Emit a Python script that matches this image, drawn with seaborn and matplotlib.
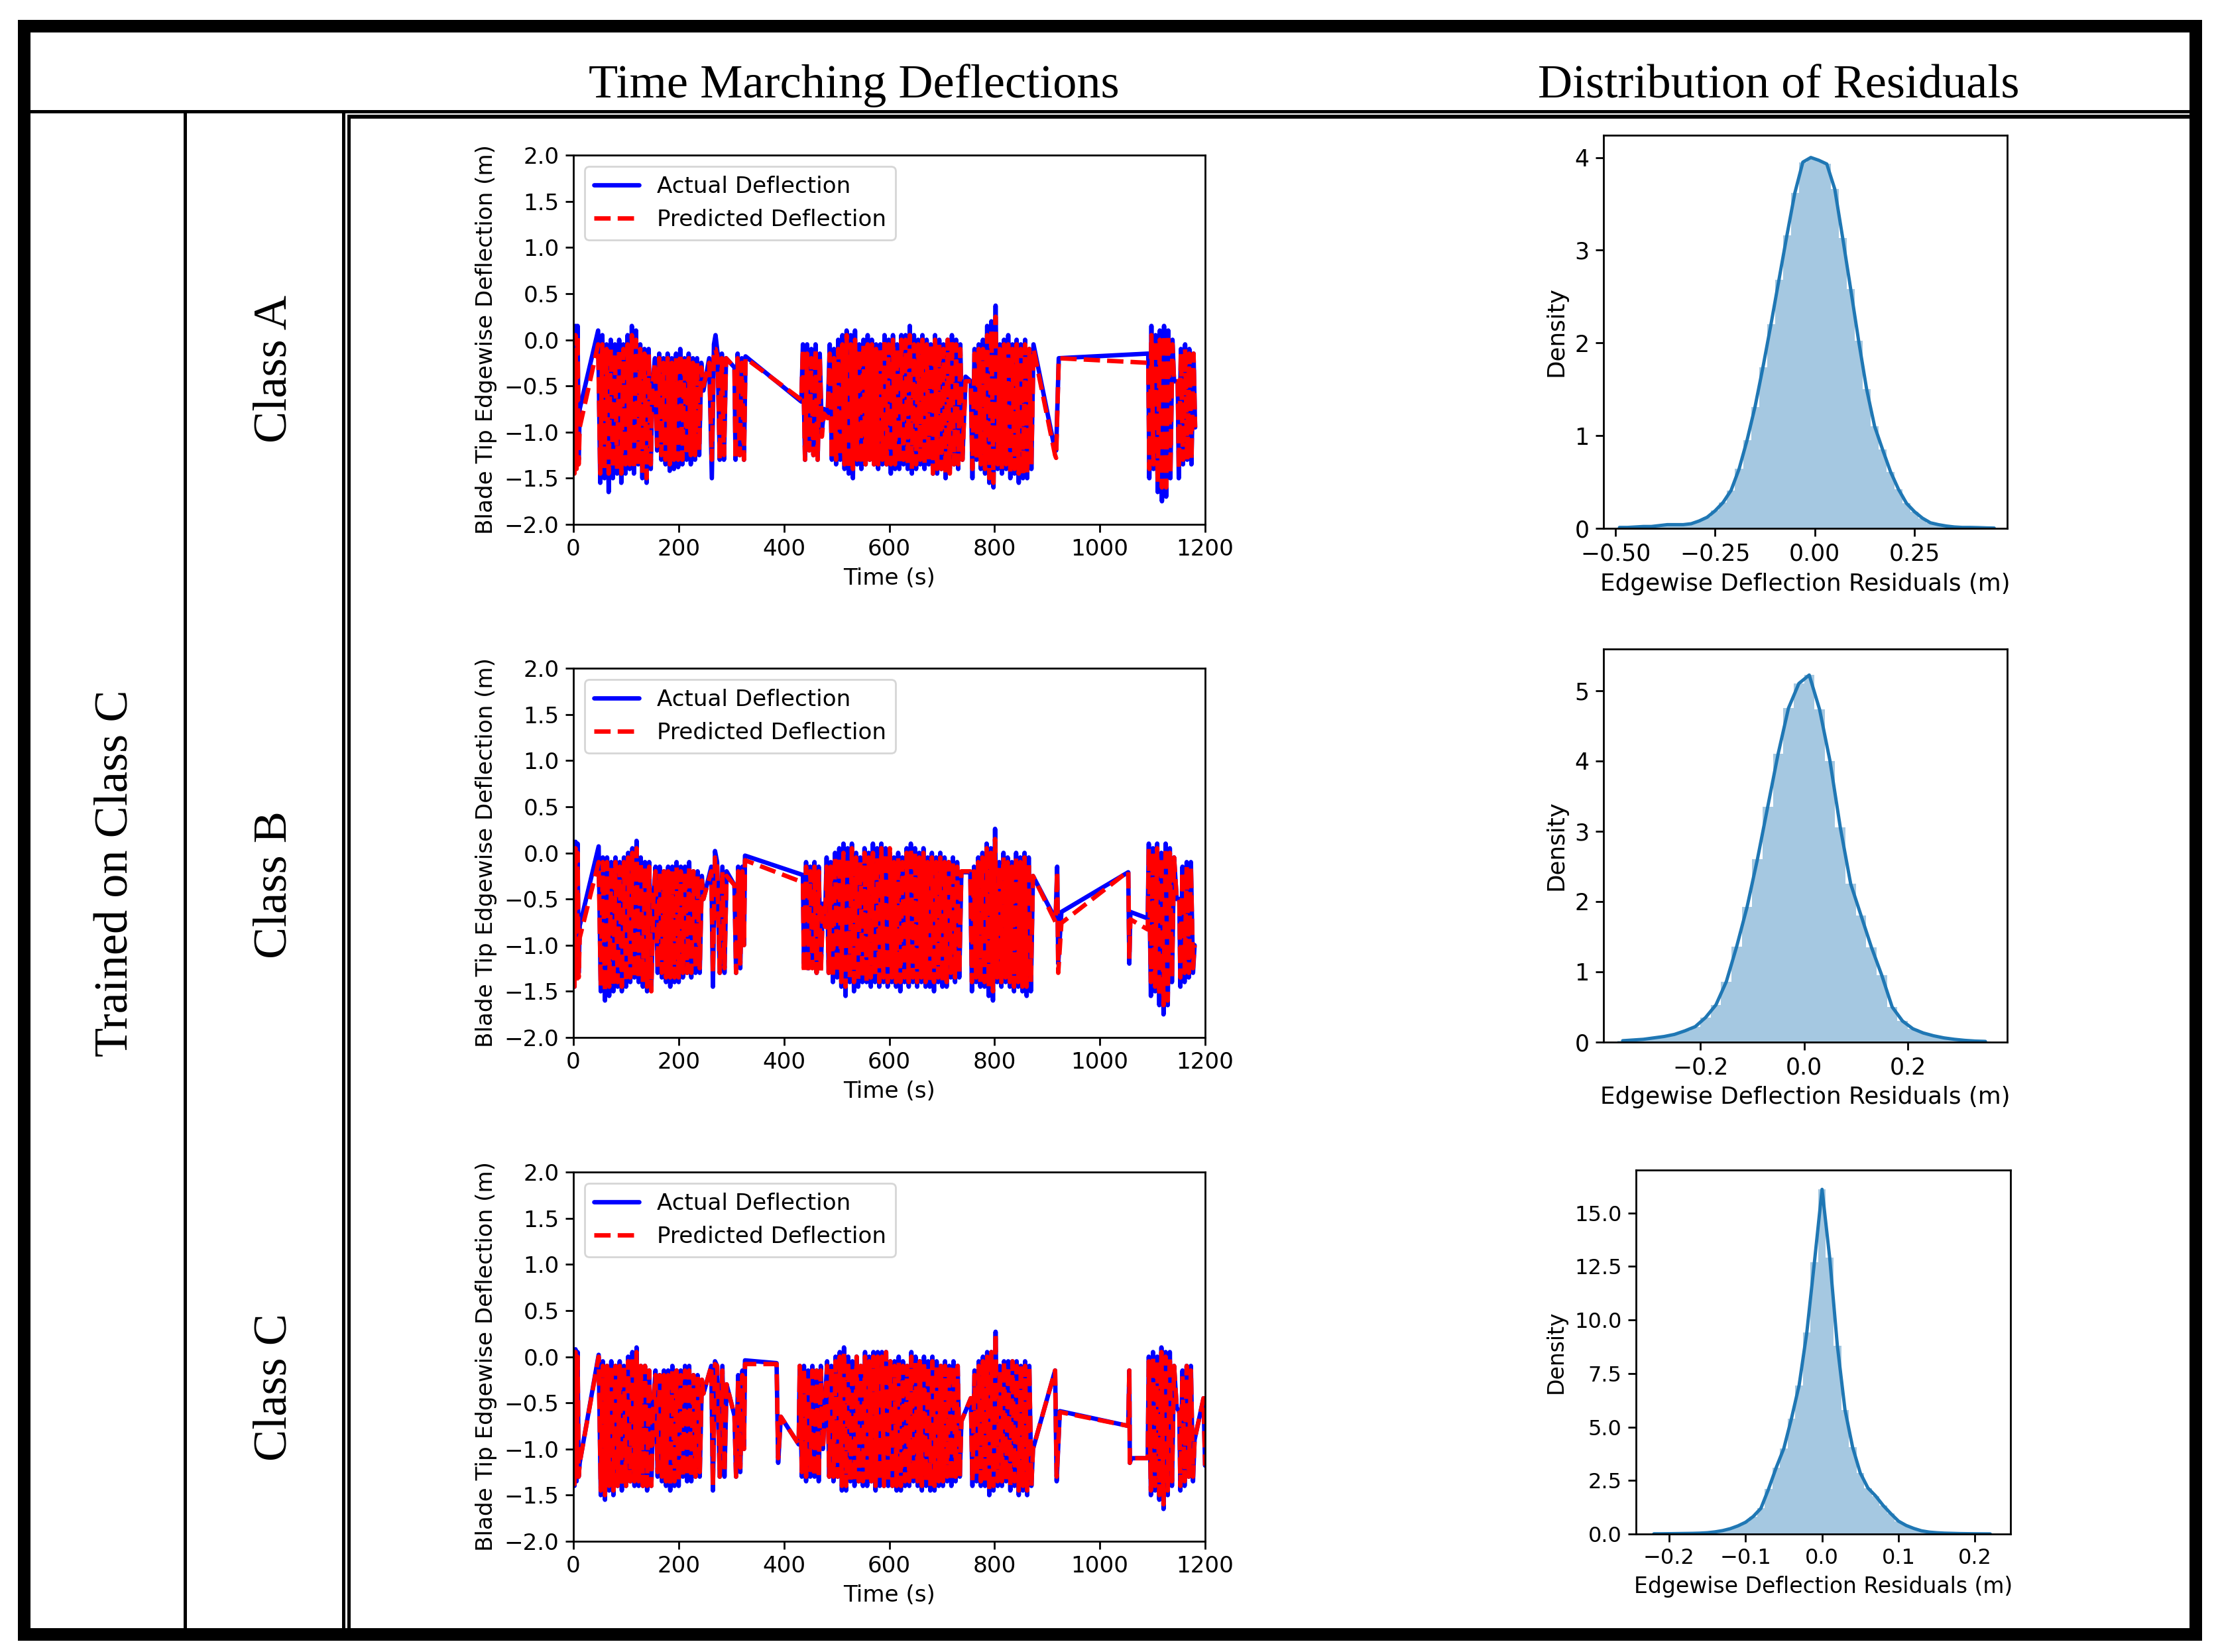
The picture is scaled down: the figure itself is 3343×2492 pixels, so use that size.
import numpy as np
import matplotlib
matplotlib.use("Agg")
import matplotlib.pyplot as plt
from matplotlib.patches import Rectangle
import seaborn as sns

# ---------------- data ----------------
# Class A : time (s), actual and predicted blade tip edgewise deflection (m)
a_time = [0, 2, 4, 6, 8, 10, 12,
          47, 51, 55, 59, 63, 67, 71, 75, 79, 83, 87, 91, 95, 99, 103, 107, 111, 115, 119, 123,
          127, 131, 135, 139, 143, 147, 150,
          155, 159, 163, 167, 171, 175, 179, 183, 187, 191, 195, 199, 203, 207, 211, 215,
          219, 223, 227, 231, 235, 239, 243, 247,
          258, 263, 267, 270, 274, 278, 282, 286, 290, 306,
          308, 312, 316, 320, 324, 327, 433,
          436, 440, 444, 448, 452, 456, 460, 464, 468, 472, 476, 483,
          487, 491, 495, 499, 503, 507, 511, 515, 519, 523, 527, 531, 535, 539, 543, 547,
          551, 555, 559, 563, 567, 571, 575, 579, 583, 587, 591, 595, 599, 603, 607, 611,
          615, 619, 623, 627, 631, 635, 639, 643, 647, 651, 655, 659, 663, 667, 671, 675,
          679, 683, 687, 691, 695, 699, 703, 707, 711, 715, 719, 723, 727, 731, 735, 739,
          745, 755,
          758, 762, 766, 770, 774, 778, 782, 786, 790, 794, 798, 802, 806, 810, 814, 818,
          822, 826, 830, 834, 838, 842, 846, 850, 854, 858, 862, 866, 870,
          874, 915, 917, 922, 1092,
          1094, 1098, 1102, 1106, 1110, 1114, 1118, 1122, 1126, 1130, 1134, 1138, 1141, 1148,
          1150, 1154, 1158, 1162, 1166, 1170, 1174, 1178, 1181]
a_actual = [-0.3, -1.4, 0.15, -1.35, 0.15, -1.3, -0.75,
            0.10, -1.55, 0.05, -1.50, -0.05, -1.65, 0.00, -1.50, -0.05, -1.45, 0.00, -1.55, -0.05, -1.45, 0.05, -1.40, 0.15, -1.45, 0.10, -1.35,
            -0.05, -1.50, -0.10, -1.55, -0.10, -1.40, -0.50,
            -0.20, -1.20, -0.15, -1.30, -0.20, -1.35, -0.15, -1.42, -0.20, -1.40, -0.15, -1.38, -0.10, -1.35, -0.20, -1.30,
            -0.15, -1.35, -0.20, -1.30, -0.20, -1.25, -0.25, -0.55,
            -0.2, -1.5, -0.05, 0.05, -0.15, -1.3, -0.15, -1.3, -0.2, -0.3,
            -1.3, -0.15, -1.25, -0.2, -1.3, -0.18, -0.67,
            -0.05, -1.30, -0.05, -1.15, -0.10, -1.25, -0.05, -1.30, -0.15, -1.00, -0.75, -0.80,
            -0.05, -1.30, -0.10, -1.35, 0.00, -1.30, 0.05, -1.40, 0.10, -1.45, 0.05, -1.50, 0.10, -1.35, -0.05, -1.40,
            0.00, -1.35, 0.05, -1.30, 0.00, -1.35, -0.05, -1.40, -0.05, -1.35, 0.05, -1.35, 0.00, -1.45, 0.05, -1.40,
            -0.05, -1.40, 0.05, -1.35, 0.05, -1.40, 0.15, -1.45, 0.05, -1.40, 0.00, -1.35, 0.05, -1.40, 0.00, -1.35,
            -0.05, -1.45, 0.05, -1.45, 0.00, -1.40, -0.05, -1.50, 0.00, -1.40, 0.05, -1.35, 0.00, -1.40, -0.05, -1.30,
            -0.40, -0.45,
            -1.50, -0.10, -1.30, -0.05, -1.40, 0.00, -1.45, 0.15, -1.55, 0.20, -1.60, 0.37, -1.40, -0.05, -1.45, 0.00,
            -1.40, 0.05, -1.50, -0.05, -1.45, 0.00, -1.55, -0.05, -1.50, 0.00, -1.50, -0.10, -1.40,
            -0.05, -1.20, -1.20, -0.20, -0.15,
            -1.50, 0.15, -1.40, 0.05, -1.65, 0.10, -1.75, 0.15, -1.70, 0.10, -1.50, 0.00, -0.45, -0.45,
            -1.50, -0.10, -1.35, -0.05, -1.30, -0.10, -1.35, -0.15, -0.95]
a_pred = [-0.3, -1.45, 0.05, -1.4, 0.05, -1.35, -0.95,
          -0.05, -1.45, -0.05, -1.40, -0.10, -1.45, -0.10, -1.40, -0.15, -1.40, -0.10, -1.45, -0.10, -1.35, -0.05, -1.35, 0.05, -1.40, 0.00, -1.35,
          -0.10, -1.45, -0.15, -1.50, -0.15, -1.35, -0.50,
          -0.25, -1.15, -0.20, -1.25, -0.25, -1.30, -0.20, -1.35, -0.25, -1.30, -0.20, -1.30, -0.15, -1.30, -0.20, -1.25,
          -0.20, -1.25, -0.25, -1.25, -0.25, -1.20, -0.30, -0.50,
          -0.25, -1.3, -0.1, -0.1, -0.2, -1.3, -0.2, -1.25, -0.2, -0.3,
          -1.3, -0.2, -1.25, -0.25, -1.3, -0.2, -0.65,
          -0.10, -1.30, -0.15, -1.20, -0.20, -1.25, -0.10, -1.30, -0.20, -1.05, -0.80, -0.85,
          -0.15, -1.30, -0.20, -1.30, -0.10, -1.25, -0.05, -1.35, 0.05, -1.40, -0.05, -1.40, 0.00, -1.30, -0.10, -1.35,
          -0.05, -1.35, -0.05, -1.30, -0.05, -1.35, -0.10, -1.35, -0.10, -1.30, 0.00, -1.35, -0.05, -1.35, 0.00, -1.35,
          -0.10, -1.35, 0.00, -1.30, 0.00, -1.35, 0.05, -1.40, -0.05, -1.35, -0.05, -1.30, 0.00, -1.35, -0.05, -1.30,
          -0.05, -1.45, 0.00, -1.40, -0.05, -1.40, -0.10, -1.45, 0.00, -1.45, 0.00, -1.35, -0.05, -1.35, -0.10, -1.30,
          -0.45, -0.45,
          -1.40, -0.15, -1.30, -0.10, -1.35, -0.10, -1.40, 0.05, -1.50, 0.10, -1.55, 0.25, -1.35, -0.10, -1.40, -0.05,
          -1.35, -0.05, -1.45, -0.10, -1.40, -0.05, -1.45, -0.10, -1.45, -0.05, -1.45, -0.10, -1.35,
          -0.10, -1.25, -1.28, -0.20, -0.25,
          -1.40, 0.05, -1.35, 0.00, -1.55, 0.00, -1.60, 0.05, -1.60, 0.05, -1.45, -0.05, -0.45, -0.45,
          -1.40, -0.15, -1.30, -0.10, -1.30, -0.15, -1.30, -0.15, -0.95]

# Class B
b_time = [0, 2, 4, 6, 8, 10, 12,
          48, 52, 56, 60, 64, 68, 72, 76, 80, 84, 88, 92, 96, 100, 104, 108, 112, 116, 120, 124,
          128, 132, 136, 140, 144, 148, 152,
          156, 160, 164, 168, 172, 176, 180, 184, 188, 192, 196, 200, 204, 208, 212, 216,
          220, 224, 228, 232, 236, 240, 244, 247,
          262, 265, 269, 273, 278, 283, 287, 291, 306,
          309, 313, 317, 321, 324, 326, 436,
          438, 442, 446, 450, 454, 458, 462, 466, 470, 474, 478,
          481, 485, 489, 493, 497, 501, 505, 509, 513, 517, 521, 525, 529, 533, 537, 541,
          545, 549, 553, 557, 561, 565, 569, 573, 577, 581, 585, 589, 593, 597, 601, 605,
          609, 613, 617, 621, 625, 629, 633, 637, 641, 645, 649, 653, 657, 661, 665, 669,
          673, 677, 681, 685, 689, 693, 697, 701, 705, 709, 713, 717, 721, 725, 729, 733,
          737, 754,
          757, 761, 765, 769, 773, 777, 781, 785, 789, 793, 797, 801, 805, 809, 813, 817,
          821, 825, 829, 833, 837, 841, 845, 849, 853, 857, 861, 865, 869,
          873, 916, 919, 921, 927, 1054, 1056, 1058, 1091,
          1093, 1097, 1101, 1105, 1109, 1113, 1117, 1121, 1125, 1129, 1133, 1137, 1141, 1146, 1151,
          1153, 1157, 1161, 1165, 1169, 1173, 1177, 1180]
b_actual = [-0.3, -1.45, 0.12, -1.35, 0.1, -1.3, -0.79,
            0.07, -1.50, -0.05, -1.60, -0.05, -1.55, -0.10, -1.50, -0.05, -1.45, -0.10, -1.50, -0.05, -1.45, 0.00, -1.40, 0.05, -1.35, 0.13, -1.40,
            -0.05, -1.45, -0.10, -1.50, -0.10, -1.45, -0.50,
            -0.15, -1.30, -0.15, -1.35, -0.20, -1.40, -0.15, -1.45, -0.15, -1.40, -0.10, -1.40, -0.15, -1.35, -0.15, -1.30,
            -0.10, -1.35, -0.20, -1.30, -0.20, -1.30, -0.25, -0.50,
            -0.15, -1.45, 0.02, -0.1, -1.3, -0.15, -1.3, -0.2, -0.35,
            -1.3, -0.15, -1.25, -0.15, -1.0, -0.03, -0.24,
            -1.20, -0.10, -1.25, -0.15, -1.20, -0.10, -1.30, -0.15, -1.25, -0.55, -0.75,
            -0.05, -1.30, -0.10, -1.40, 0.00, -1.35, 0.05, -1.45, 0.10, -1.55, 0.05, -1.40, 0.10, -1.50, 0.00, -1.45,
            -0.05, -1.40, 0.05, -1.40, 0.00, -1.45, 0.10, -1.40, 0.05, -1.45, 0.10, -1.40, 0.05, -1.45, 0.00, -1.40,
            -0.05, -1.45, 0.00, -1.50, -0.05, -1.40, 0.05, -1.45, 0.10, -1.40, 0.05, -1.45, 0.00, -1.40, 0.05, -1.45,
            -0.05, -1.45, 0.00, -1.50, -0.05, -1.40, 0.00, -1.45, -0.05, -1.45, -0.10, -1.35, -0.05, -1.40, -0.10, -1.35,
            -0.21, -0.21,
            -1.50, -0.15, -1.40, -0.05, -1.45, 0.00, -1.45, 0.10, -1.55, 0.05, -1.60, 0.26, -1.40, -0.10, -1.45, 0.00,
            -1.40, -0.05, -1.45, -0.10, -1.50, 0.00, -1.45, -0.05, -1.50, 0.00, -1.55, -0.05, -1.50,
            -0.25, -0.72, -0.15, -1.20, -0.64, -0.21, -1.20, -0.64, -0.71,
            0.10, -1.55, 0.05, -1.50, 0.10, -1.65, 0.00, -1.75, 0.10, -1.65, 0.05, -1.40, -0.05, -0.50, -0.50,
            -1.45, -0.15, -1.40, -0.10, -1.35, -0.10, -1.30, -1.00]
b_pred = [-0.4, -1.45, 0.05, -1.4, 0.0, -1.35, -0.92,
          -0.10, -1.45, -0.10, -1.50, -0.10, -1.45, -0.15, -1.45, -0.10, -1.40, -0.15, -1.45, -0.10, -1.40, -0.05, -1.35, 0.00, -1.35, 0.05, -1.35,
          -0.10, -1.40, -0.15, -1.45, -0.15, -1.50, -0.50,
          -0.20, -1.25, -0.20, -1.30, -0.20, -1.35, -0.20, -1.35, -0.20, -1.35, -0.15, -1.35, -0.20, -1.30, -0.20, -1.30,
          -0.15, -1.30, -0.20, -1.25, -0.25, -1.25, -0.30, -0.50,
          -0.2, -1.3, -0.05, -0.15, -1.3, -0.2, -1.25, -0.25, -0.35,
          -1.3, -0.2, -1.2, -0.2, -1.0, -0.08, -0.32,
          -1.30, -0.15, -1.30, -0.20, -1.25, -0.15, -1.30, -0.20, -1.30, -0.60, -0.80,
          -0.15, -1.30, -0.15, -1.35, -0.05, -1.30, -0.05, -1.40, 0.00, -1.45, -0.05, -1.35, 0.05, -1.40, -0.05, -1.40,
          -0.10, -1.35, 0.00, -1.40, -0.05, -1.35, 0.00, -1.35, -0.05, -1.40, 0.05, -1.35, 0.00, -1.40, 0.05, -1.35,
          -0.10, -1.40, -0.05, -1.40, -0.10, -1.35, 0.00, -1.40, 0.05, -1.35, 0.00, -1.40, -0.05, -1.35, 0.00, -1.40,
          -0.10, -1.40, -0.05, -1.40, -0.10, -1.35, -0.05, -1.40, -0.10, -1.40, -0.10, -1.30, -0.10, -1.35, -0.15, -1.30,
          -0.20, -0.20,
          -1.40, -0.20, -1.35, -0.10, -1.40, -0.05, -1.40, 0.05, -1.45, 0.00, -1.50, 0.15, -1.35, -0.15, -1.40, -0.05,
          -1.35, -0.10, -1.40, -0.15, -1.45, -0.05, -1.40, -0.10, -1.45, -0.05, -1.45, -0.10, -1.40,
          -0.25, -0.75, -0.20, -1.30, -0.76, -0.20, -1.15, -0.72, -0.83,
          0.05, -1.40, 0.00, -1.45, 0.05, -1.55, -0.05, -1.65, 0.05, -1.60, 0.00, -1.35, -0.05, -0.50, -0.50,
          -1.35, -0.20, -1.30, -0.15, -1.30, -0.15, -1.25, -1.00]

# Class C
c_time = [0, 2, 4, 6, 8, 10, 12,
          48, 52, 56, 60, 64, 68, 72, 76, 80, 84, 88, 92, 96, 100, 104, 108, 112, 116, 120, 124,
          128, 132, 136, 140, 144, 148, 152,
          156, 160, 164, 168, 172, 176, 180, 184, 188, 192, 196, 200, 204, 208, 212, 216,
          220, 224, 228, 232, 236, 240, 244, 247,
          262, 265, 269, 273, 278, 283, 287, 291, 306,
          309, 313, 317, 321, 324, 326, 386, 389, 394, 428,
          430, 434, 438, 442, 446, 450, 454, 458, 462, 466, 470, 474, 478,
          482, 486, 490, 494, 498, 502, 506, 510, 514, 518, 522, 526, 530, 534, 538, 542,
          546, 550, 554, 558, 562, 566, 570, 574, 578, 582, 586, 590, 594, 598, 602, 606,
          610, 614, 618, 622, 626, 630, 634, 638, 642, 646, 650, 654, 658, 662, 666, 670,
          674, 678, 682, 686, 690, 694, 698, 702, 706, 710, 714, 718, 722, 726, 730, 734,
          737, 755,
          758, 762, 766, 770, 774, 778, 782, 786, 790, 794, 798, 802, 806, 810, 814, 818,
          822, 826, 830, 834, 838, 842, 846, 850, 854, 858, 862, 866, 870,
          873, 915, 918, 924, 1054, 1056, 1057, 1060, 1091,
          1093, 1097, 1101, 1105, 1109, 1113, 1117, 1121, 1125, 1129, 1133, 1137, 1141, 1146, 1151,
          1153, 1157, 1161, 1165, 1169, 1173, 1177, 1180, 1197, 1200]
c_actual = [-0.35, -1.4, 0.08, -1.35, 0.05, -1.3, -1.15,
            0.02, -1.50, -0.05, -1.55, -0.10, -1.45, -0.05, -1.50, -0.10, -1.40, -0.05, -1.45, -0.10, -1.40, 0.00, -1.35, 0.05, -1.40, 0.10, -1.40,
            -0.10, -1.40, -0.10, -1.45, -0.15, -1.40, -0.50,
            -0.15, -1.30, -0.20, -1.35, -0.15, -1.40, -0.15, -1.45, -0.10, -1.40, -0.15, -1.40, -0.15, -1.30, -0.10, -1.35,
            -0.10, -1.35, -0.20, -1.30, -0.20, -1.30, -0.25, -0.40,
            -0.1, -1.45, -0.05, -0.1, -1.3, -0.1, -1.3, -0.3, -0.64,
            -1.3, -0.2, -1.25, -0.15, -1.0, -0.04, -0.07, -1.15, -0.65, -0.95,
            -0.10, -1.30, -0.10, -1.35, -0.15, -1.30, -0.10, -1.30, -0.15, -1.35, -0.10, -1.00, -0.50,
            -0.05, -1.30, -0.10, -1.35, 0.00, -1.30, 0.05, -1.45, 0.10, -1.45, 0.00, -1.35, -0.05, -1.40, 0.00, -1.35,
            -0.10, -1.40, 0.05, -1.40, 0.00, -1.35, 0.05, -1.45, 0.05, -1.40, 0.05, -1.40, 0.05, -1.40, -0.05, -1.40,
            -0.05, -1.45, 0.00, -1.45, -0.05, -1.40, -0.10, -1.40, 0.05, -1.35, 0.00, -1.40, -0.05, -1.45, 0.00, -1.40,
            -0.05, -1.45, 0.00, -1.45, -0.05, -1.40, -0.10, -1.40, -0.05, -1.35, -0.10, -1.40, -0.05, -1.35, -0.10, -1.30,
            -0.70, -0.45,
            -1.40, -0.15, -1.35, -0.05, -1.40, 0.00, -1.40, 0.05, -1.50, 0.05, -1.45, 0.27, -1.40, -0.10, -1.40, -0.05,
            -1.35, -0.05, -1.45, -0.05, -1.40, -0.05, -1.50, -0.10, -1.45, -0.05, -1.50, -0.10, -1.40,
            -1.00, -0.15, -1.35, -0.59, -0.75, -0.15, -1.15, -1.10, -1.10,
            0.00, -1.50, 0.05, -1.45, 0.00, -1.55, 0.10, -1.65, 0.05, -1.50, 0.05, -1.40, -0.10, -0.55, -0.60,
            -1.45, -0.15, -1.40, -0.10, -1.30, -0.10, -1.35, -0.90, -0.45, -1.18]
c_pred = [-0.35, -1.38, 0.05, -1.3, 0.0, -1.3, -1.15,
          0.00, -1.45, -0.10, -1.50, -0.10, -1.40, -0.10, -1.45, -0.10, -1.40, -0.10, -1.40, -0.10, -1.40, -0.05, -1.35, 0.00, -1.35, 0.05, -1.35,
          -0.10, -1.40, -0.10, -1.40, -0.15, -1.40, -0.50,
          -0.20, -1.25, -0.20, -1.30, -0.20, -1.35, -0.20, -1.40, -0.15, -1.35, -0.15, -1.35, -0.20, -1.30, -0.15, -1.30,
          -0.15, -1.30, -0.20, -1.30, -0.20, -1.25, -0.25, -0.40,
          -0.1, -1.4, -0.08, -0.1, -1.3, -0.15, -1.25, -0.3, -0.64,
          -1.3, -0.25, -1.2, -0.2, -1.0, -0.08, -0.08, -1.1, -0.65, -0.95,
          -0.10, -1.25, -0.15, -1.30, -0.20, -1.25, -0.15, -1.30, -0.15, -1.30, -0.15, -1.00, -0.55,
          -0.10, -1.30, -0.10, -1.30, -0.05, -1.30, 0.00, -1.40, 0.05, -1.40, -0.05, -1.35, -0.10, -1.35, 0.00, -1.35,
          -0.10, -1.35, 0.00, -1.35, -0.05, -1.35, 0.00, -1.40, 0.00, -1.35, 0.00, -1.40, 0.05, -1.35, -0.05, -1.40,
          -0.10, -1.40, -0.05, -1.40, -0.10, -1.35, -0.10, -1.35, 0.00, -1.35, -0.05, -1.35, -0.05, -1.40, -0.05, -1.35,
          -0.10, -1.40, -0.05, -1.40, -0.10, -1.35, -0.10, -1.35, -0.10, -1.30, -0.10, -1.35, -0.10, -1.30, -0.10, -1.30,
          -0.70, -0.45,
          -1.35, -0.20, -1.30, -0.10, -1.35, -0.05, -1.35, 0.00, -1.45, 0.05, -1.40, 0.25, -1.35, -0.15, -1.35, -0.05,
          -1.35, -0.10, -1.40, -0.05, -1.35, -0.10, -1.45, -0.10, -1.40, -0.10, -1.45, -0.10, -1.40,
          -1.00, -0.15, -1.30, -0.60, -0.75, -0.15, -1.15, -1.10, -1.10,
          -0.05, -1.45, 0.00, -1.40, -0.05, -1.50, 0.05, -1.60, 0.00, -1.45, 0.00, -1.35, -0.10, -0.55, -0.60,
          -1.40, -0.20, -1.35, -0.10, -1.30, -0.15, -1.30, -0.90, -0.45, -1.18]

# residual density curves (residual value, density)
a_res = [-0.49, -0.47, -0.45, -0.43, -0.41, -0.39, -0.37, -0.35, -0.33, -0.31, -0.29, -0.27,
         -0.25, -0.23, -0.21, -0.19, -0.17, -0.15, -0.13, -0.11, -0.09, -0.07, -0.05, -0.03,
         -0.01, 0.01, 0.03, 0.05, 0.07, 0.09, 0.11, 0.13, 0.15, 0.17, 0.19, 0.21, 0.23, 0.25,
         0.27, 0.29, 0.31, 0.33, 0.35, 0.37, 0.39, 0.41, 0.43, 0.45]
a_dens = [0.01, 0.01, 0.015, 0.02, 0.02, 0.03, 0.04, 0.04, 0.04, 0.05, 0.08, 0.12,
          0.19, 0.28, 0.41, 0.64, 0.95, 1.31, 1.74, 2.2, 2.68, 3.16, 3.62, 3.95,
          4.0, 3.97, 3.93, 3.66, 3.13, 2.58, 2.02, 1.5, 1.1, 0.85, 0.61, 0.42, 0.27, 0.18,
          0.11, 0.06, 0.04, 0.025, 0.015, 0.01, 0.01, 0.008, 0.005, 0.003]

b_res = [-0.35, -0.33, -0.31, -0.29, -0.27, -0.25, -0.23, -0.21, -0.19, -0.17, -0.15, -0.13,
         -0.11, -0.09, -0.07, -0.05, -0.03, -0.01, 0.01, 0.03, 0.05, 0.07, 0.09, 0.11,
         0.13, 0.15, 0.17, 0.19, 0.21, 0.23, 0.25, 0.27, 0.29, 0.31, 0.33, 0.35]
b_dens = [0.02, 0.03, 0.04, 0.06, 0.08, 0.11, 0.16, 0.22, 0.35, 0.53, 0.86, 1.36,
          1.92, 2.6, 3.35, 4.1, 4.75, 5.1, 5.22, 4.73, 4.0, 3.05, 2.25, 1.8,
          1.35, 0.95, 0.5, 0.3, 0.19, 0.13, 0.09, 0.06, 0.04, 0.025, 0.015, 0.01]

c_res = [-0.22, -0.21, -0.20, -0.19, -0.18, -0.17, -0.16, -0.15, -0.14, -0.13, -0.12, -0.11,
         -0.10, -0.09, -0.08, -0.07, -0.06, -0.05, -0.04, -0.03, -0.02, -0.01, 0.00, 0.01,
         0.02, 0.03, 0.04, 0.05, 0.06, 0.07, 0.08, 0.09, 0.10, 0.11, 0.12, 0.13, 0.14, 0.15,
         0.16, 0.17, 0.18, 0.19, 0.20, 0.21, 0.22]
c_dens = [0.01, 0.01, 0.015, 0.02, 0.025, 0.03, 0.04, 0.06, 0.1, 0.16, 0.25, 0.38,
          0.55, 0.82, 1.2, 2.1, 3.1, 4.0, 5.4, 6.95, 9.4, 12.7, 16.1, 12.9,
          8.8, 5.8, 4.05, 2.85, 2.15, 1.78, 1.33, 0.95, 0.6, 0.4, 0.26, 0.15, 0.09, 0.06,
          0.04, 0.03, 0.02, 0.015, 0.01, 0.007, 0.005]

row_names = ["Class A", "Class B", "Class C"]
col_titles = ["Time Marching Deflections", "Distribution of Residuals"]
side_title = "Trained on Class C"

# ---------------- style ----------------
sns.set_style("ticks", {"axes.edgecolor": "black", "text.color": "black",
                        "axes.labelcolor": "black", "xtick.color": "black",
                        "ytick.color": "black"})
plt.rcParams["font.family"] = ["DejaVu Sans"]
plt.rcParams["axes.linewidth"] = 1.0
plt.rcParams["xtick.major.size"] = 4.2
plt.rcParams["ytick.major.size"] = 4.2
plt.rcParams["xtick.major.width"] = 1.0
plt.rcParams["ytick.major.width"] = 1.0

W, H, DPI = 3343, 2492, 200
fig = plt.figure(figsize=(W / DPI, H / DPI), dpi=DPI)

# table frame drawn in pixel coordinates
frame = fig.add_axes([0, 0, 1, 1], zorder=-1)
frame.set_xlim(0, W)
frame.set_ylim(H, 0)
frame.axis("off")
bars = [(27, 30, 3322, 49), (27, 2456, 3322, 2475), (27, 30, 46, 2475), (3303, 30, 3322, 2475),
        (46, 166, 3303, 171), (524, 173, 3303, 179),
        (277, 171, 282, 2456), (516, 171, 521, 2456), (524, 173, 529, 2456)]
for x0, y0, x1, y1 in bars:
    frame.add_patch(Rectangle((x0, y0), x1 - x0, y1 - y0, facecolor="black", lw=0))

serif = "Liberation Serif"
frame.text(1288, 147, col_titles[0], family=serif, fontsize=26, ha="center", va="baseline")
frame.text(2683, 147, col_titles[1], family=serif, fontsize=26, ha="center", va="baseline")
frame.text(175, 1317, side_title, family=serif, fontsize=26, rotation=90, ha="center", va="center")
for name, yc in zip(row_names, [556, 1335, 2092]):
    frame.text(414, yc, name, family=serif, fontsize=26, rotation=90, ha="center", va="center")


def px_axes(x0, y0, x1, y1):
    return fig.add_axes([x0 / W, 1 - y1 / H, (x1 - x0) / W, (y1 - y0) / H])


series = [(a_time, a_actual, a_pred), (b_time, b_actual, b_pred), (c_time, c_actual, c_pred)]
tops = [234, 1008, 1768]
fs = 12.3
for (t, act, pred), top in zip(series, tops):
    ax = px_axes(865, top, 1818, top + 557)
    sns.lineplot(x=t, y=act, ax=ax, color="blue", lw=2.4, sort=False, estimator=None,
                 label="Actual Deflection")
    sns.lineplot(x=t, y=pred, ax=ax, color="red", lw=2.4, ls="--", sort=False, estimator=None,
                 label="Predicted Deflection")
    ax.set_xlim(0, 1200)
    ax.set_ylim(-2.0, 2.0)
    ax.set_xticks(np.arange(0, 1201, 200))
    ax.set_yticks(np.arange(-2.0, 2.01, 0.5))
    ax.set_xlabel("Time (s)", fontsize=fs)
    ax.set_ylabel("Blade Tip Edgewise Deflection (m)", fontsize=fs)
    ax.tick_params(labelsize=fs)
    ax.legend(loc="upper left", fontsize=fs)

hists = [(a_res, a_dens, (2419, 204, 3028, 797), (-0.530, 0.4825), 4.24, 12.5),
         (b_res, b_dens, (2419, 979, 3028, 1572), (-0.387, 0.392), 5.59, 12.5),
         (c_res, c_dens, (2468, 1765, 3033, 2314), (-0.2434, 0.2465), 17.0, 11.5)]
for res, dens, box, xlim, ytop, hfs in hists:
    ax = px_axes(*box)
    h = res[1] - res[0]
    sns.histplot(x=res, weights=dens, binwidth=h, binrange=(res[0] - h / 2, res[-1] + h / 2),
                 ax=ax, color="#1f77b4", alpha=0.4, edgecolor=None, linewidth=0)
    sns.lineplot(x=res, y=dens, ax=ax, color="#1f77b4", lw=1.8)
    ax.set_xlim(*xlim)
    ax.set_ylim(0, ytop)
    ax.set_xlabel("Edgewise Deflection Residuals (m)", fontsize=hfs + 0.4)
    ax.set_ylabel("Density", fontsize=hfs + 0.4)
    ax.tick_params(labelsize=hfs)

fig.savefig("out.png", dpi=DPI)
